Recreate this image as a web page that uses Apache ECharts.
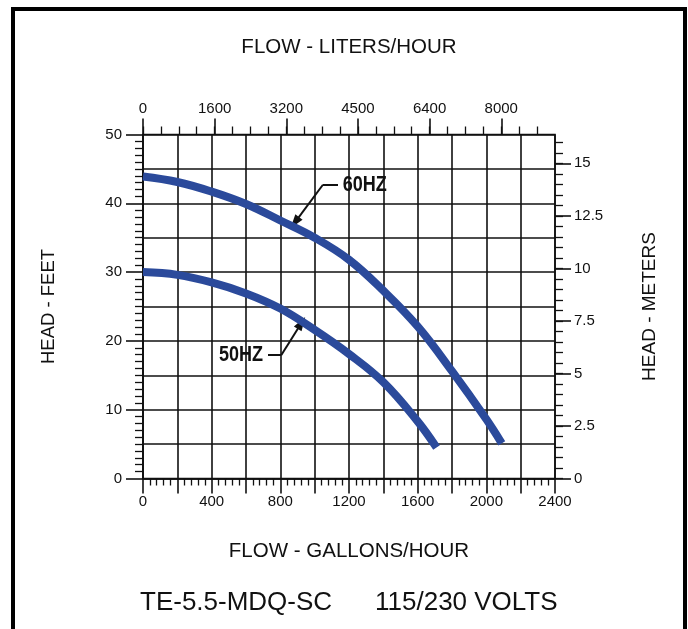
<!DOCTYPE html>
<html><head><meta charset="utf-8">
<script src="https://cdn.jsdelivr.net/npm/echarts@6/dist/echarts.min.js"></script>
<style>html,body{margin:0;padding:0;background:#fff}#c{width:688px;height:629px}</style>
</head><body><div id="c"></div>
<script>
// ---- data ----
const flow60 = [0, 200, 400, 600, 800, 1000, 1200, 1400, 1600, 1800, 2000, 2090];
const head60 = [43.9, 43.1, 41.7, 39.9, 37.5, 35.0, 31.8, 27.3, 22.1, 15.6, 8.6, 5.1];
const flow50 = [0, 200, 400, 600, 800, 1000, 1200, 1400, 1600, 1710];
const head50 = [30.0, 29.6, 28.5, 26.9, 24.7, 21.6, 18.1, 14.0, 8.3, 4.5];

const galLabelValues = [0, 400, 800, 1200, 1600, 2000, 2400];
const literTickValues = [0, 1600, 3200, 4800, 6400, 8000];
const literTickLabels = ['0', '1600', '3200', '4500', '6400', '8000'];
const feetLabelValues = [0, 10, 20, 30, 40, 50];
const meterTickValues = [0, 2.5, 5, 7.5, 10, 12.5, 15];

// annotation anchors (data coordinates: gal/h, feet)
const label60 = { text: '60HZ', at: [1163, 42.7], bend: [1048, 42.7], start: [1136, 42.7], tip: [884, 37.2] };
const label50 = { text: '50HZ', at: [699, 17.95], bend: [806, 17.95], start: [728, 17.95], tip: [923, 22.6] };

// ---- layout ----
const W = 688, H = 629;
const G = { left: 143, right: 133, top: 134.5, bottom: 150.5 };
const plotW = W - G.left - G.right;
const plotH = H - G.top - G.bottom;
const LITER_FULL = 9200;      // liters/hour at the right edge of the plot
const METER_FULL = 16.37;     // meters at the top edge of the plot
const pxL = plotW / LITER_FULL;
const pxM = plotH / METER_FULL;

const INK = '#111';
const FONT = "'Liberation Sans', Arial, sans-serif";
const CURVE = '#2b4a9b';
const lineSt = { color: INK, width: 1.6 };
const thin = { color: INK, width: 1.3 };
const zip = (a, b) => a.map((v, i) => [v, b[i]]);
const hidden = (gi) => ({ type: 'value', gridIndex: gi, show: false, min: 0, max: 1 });
const noLine = { show: false, onZero: false };

const chart = echarts.init(document.getElementById('c'), null, { renderer: 'canvas' });

chart.setOption({
  animation: false,
  backgroundColor: '#fff',
  grid: [
    Object.assign({ show: true, borderColor: INK, borderWidth: 1.6, backgroundColor: 'transparent' }, G),
    { left: G.left, right: W - (G.left + 8000 * pxL), top: G.top, bottom: G.bottom },
    { left: G.left, right: W - (G.left + 8800 * pxL), top: G.top, bottom: G.bottom },
    { left: G.left, right: G.right, top: H - G.bottom - 15 * pxM, bottom: G.bottom },
    { left: G.left, right: G.right, top: H - G.bottom - 16 * pxM, bottom: G.bottom }
  ],
  xAxis: [
    {
      type: 'value', gridIndex: 0, position: 'bottom', min: 0, max: 2400, interval: 200,
      axisLine: { show: true, onZero: false, lineStyle: lineSt },
      axisTick: { show: true, length: 15, lineStyle: lineSt },
      minorTick: { show: true, splitNumber: 5, length: 7, lineStyle: thin },
      splitLine: { show: true, lineStyle: lineSt },
      axisLabel: { fontSize: 15, color: INK, fontFamily: FONT, margin: 16,
        formatter: v => galLabelValues.includes(v) ? String(v) : '' },
      name: 'FLOW - GALLONS/HOUR', nameLocation: 'middle', nameGap: 62,
      nameTextStyle: { fontSize: 20.5, color: INK, fontFamily: FONT }
    },
    {
      type: 'value', gridIndex: 0, position: 'top', min: 0, max: LITER_FULL,
      axisLine: noLine, axisTick: { show: false }, axisLabel: { show: false }, splitLine: { show: false },
      name: 'FLOW - LITERS/HOUR', nameLocation: 'middle', nameGap: 77,
      nameTextStyle: { fontSize: 20.5, color: INK, fontFamily: FONT }
    },
    {
      type: 'value', gridIndex: 1, position: 'top', min: 0, max: 8000, interval: 1600,
      axisLine: noLine,
      axisTick: { show: true, length: 16, lineStyle: lineSt },
      splitLine: { show: false },
      axisLabel: { fontSize: 15, color: INK, fontFamily: FONT, margin: 18,
        formatter: v => { const i = literTickValues.indexOf(v); return i >= 0 ? literTickLabels[i] : ''; } }
    },
    {
      type: 'value', gridIndex: 2, position: 'top', min: 0, max: 8800, interval: 400,
      axisLine: noLine,
      axisTick: { show: true, length: 8, lineStyle: thin },
      splitLine: { show: false }, axisLabel: { show: false }
    },
    hidden(3),
    hidden(4)
  ],
  yAxis: [
    {
      type: 'value', gridIndex: 0, position: 'left', min: 0, max: 50, interval: 10,
      axisLine: { show: true, onZero: false, lineStyle: lineSt },
      axisTick: { show: true, length: 17, lineStyle: lineSt },
      minorTick: { show: true, splitNumber: 10, length: 8, lineStyle: thin },
      splitLine: { show: false },
      axisLabel: { fontSize: 15, color: INK, fontFamily: FONT, margin: 21,
        formatter: v => feetLabelValues.includes(v) ? String(v) : '' },
      name: 'HEAD - FEET', nameLocation: 'middle', nameGap: 85, nameRotate: 90,
      nameTextStyle: { fontSize: 18.5, color: INK, fontFamily: FONT }
    },
    {
      type: 'value', gridIndex: 0, position: 'left', min: 0, max: 50, interval: 5,
      axisLine: noLine, axisTick: { show: false }, axisLabel: { show: false },
      splitLine: { show: true, lineStyle: lineSt }
    },
    {
      type: 'value', gridIndex: 0, position: 'right', min: 0, max: METER_FULL,
      axisLine: noLine, axisTick: { show: false }, axisLabel: { show: false }, splitLine: { show: false },
      name: 'HEAD - METERS', nameLocation: 'middle', nameGap: 85, nameRotate: 90,
      nameTextStyle: { fontSize: 19, color: INK, fontFamily: FONT }
    },
    hidden(1),
    hidden(2),
    {
      type: 'value', gridIndex: 3, position: 'right', min: 0, max: 15, interval: 2.5,
      axisLine: noLine,
      axisTick: { show: true, length: 16, lineStyle: lineSt },
      splitLine: { show: false },
      axisLabel: { fontSize: 15, color: INK, fontFamily: FONT, margin: 19,
        formatter: v => meterTickValues.includes(v) ? String(v) : '' }
    },
    {
      type: 'value', gridIndex: 4, position: 'right', min: 0, max: 16, interval: 0.5,
      axisLine: noLine,
      axisTick: { show: true, length: 8, lineStyle: thin },
      splitLine: { show: false }, axisLabel: { show: false }
    }
  ],
  series: [
    {
      name: '60HZ', type: 'line', xAxisIndex: 0, yAxisIndex: 0,
      data: zip(flow60, head60), smooth: 0.4, symbol: 'none',
      lineStyle: { color: CURVE, width: 8, cap: 'butt' }, z: 5,
      markLine: {
        silent: true, symbol: ['none', 'none'], animation: false,
        lineStyle: { color: INK, width: 2, type: 'solid' }, label: { show: false },
        data: [
          [{ coord: label60.start }, { coord: label60.bend }],
          [{ coord: label60.bend }, { coord: label60.tip, symbol: 'triangle', symbolSize: [9, 14] }]
        ]
      }
    },
    {
      name: '50HZ', type: 'line', xAxisIndex: 0, yAxisIndex: 0,
      data: zip(flow50, head50), smooth: 0.4, symbol: 'none',
      lineStyle: { color: CURVE, width: 8, cap: 'butt' }, z: 5,
      markLine: {
        silent: true, symbol: ['none', 'none'], animation: false,
        lineStyle: { color: INK, width: 2, type: 'solid' }, label: { show: false },
        data: [
          [{ coord: label50.start }, { coord: label50.bend }],
          [{ coord: label50.bend }, { coord: label50.tip, symbol: 'triangle', symbolSize: [9, 14] }]
        ]
      }
    }
  ]
});

// annotation texts placed through the chart's own coordinate conversion
const p60 = chart.convertToPixel({ seriesIndex: 0 }, label60.at);
const p50 = chart.convertToPixel({ seriesIndex: 1 }, label50.at);
const labelFont = "bold 22px 'Liberation Sans', Arial, sans-serif";
chart.setOption({
  graphic: [
    { id: 'frame', type: 'rect', silent: true, z: 100,
      shape: { x: 13, y: 9, width: 672, height: 700 },
      style: { fill: 'none', stroke: '#000', lineWidth: 4 } },
    { id: 'model', type: 'text', silent: true, left: 140, top: 590,
      style: { text: 'TE-5.5-MDQ-SC', font: "26px 'Liberation Sans', Arial, sans-serif", fill: INK } },
    { id: 'volts', type: 'text', silent: true, left: 375, top: 590,
      style: { text: '115/230 VOLTS', font: "26px 'Liberation Sans', Arial, sans-serif", fill: INK } },
    { id: 't60', type: 'text', silent: true, x: p60[0], y: p60[1], scaleX: 0.82, z: 50,
      style: { text: label60.text, font: labelFont, fill: INK, align: 'left', verticalAlign: 'middle' } },
    { id: 't50', type: 'text', silent: true, x: p50[0], y: p50[1], scaleX: 0.82, z: 50,
      style: { text: label50.text, font: labelFont, fill: INK, align: 'right', verticalAlign: 'middle' } }
  ]
});
</script>
</body></html>
